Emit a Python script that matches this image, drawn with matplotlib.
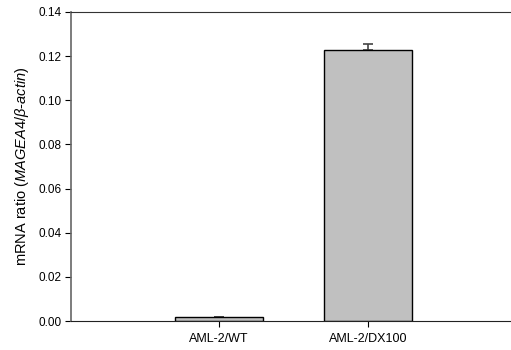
import numpy as np
import matplotlib.pyplot as plt

plt.rcParams['font.family'] = 'Liberation Sans'
plt.rcParams['mathtext.fontset'] = 'custom'
plt.rcParams['mathtext.rm'] = 'Liberation Sans'
plt.rcParams['mathtext.it'] = 'Liberation Sans:italic'

# Rasio mRNA MAGEA4 terhadap beta-actin
groups = ["AML-2/WT", "AML-2/DX100"]
ratio = [0.0018, 0.1228]
sem = [0.0, 0.0026]

fig = plt.figure(figsize=(5.11, 3.5), dpi=100)
ax = fig.add_axes([71 / 511, 29 / 350, 440 / 511, 309 / 350])

pos = np.arange(len(groups))
ax.bar(pos, ratio, width=0.59, color="#c0c0c0", edgecolor="black", linewidth=1.0, zorder=2)
ax.errorbar(pos, ratio, yerr=[np.zeros(len(sem)), sem], fmt="none",
            ecolor="#444444", elinewidth=1.2, capsize=3.8, capthick=1.2, zorder=1)

ax.set_xlim(-0.99, 1.96)
ax.set_ylim(0, 0.14)
ax.set_yticks(np.arange(0, 0.141, 0.02))
ax.set_yticklabels(["%.2f" % v for v in np.arange(0, 0.141, 0.02)])
ax.set_xticks(pos)
ax.set_xticklabels(groups)
ax.tick_params(direction="out", length=4, width=0.8, colors="black")
ax.tick_params(axis="y", labelsize=8.5, pad=3)
ax.tick_params(axis="x", labelsize=9, pad=5)

ax.spines["right"].set_visible(False)
ax.spines["left"].set_color("#666666")
ax.spines["left"].set_linewidth(1.2)
ax.spines["top"].set_color("#333333")
ax.spines["bottom"].set_color("#222222")

ax.set_ylabel(r"mRNA ratio ($\it{MAGEA4/\beta}$-$\it{actin}$)", fontsize=10.5, labelpad=5)

fig.savefig("out.png", dpi=100)
